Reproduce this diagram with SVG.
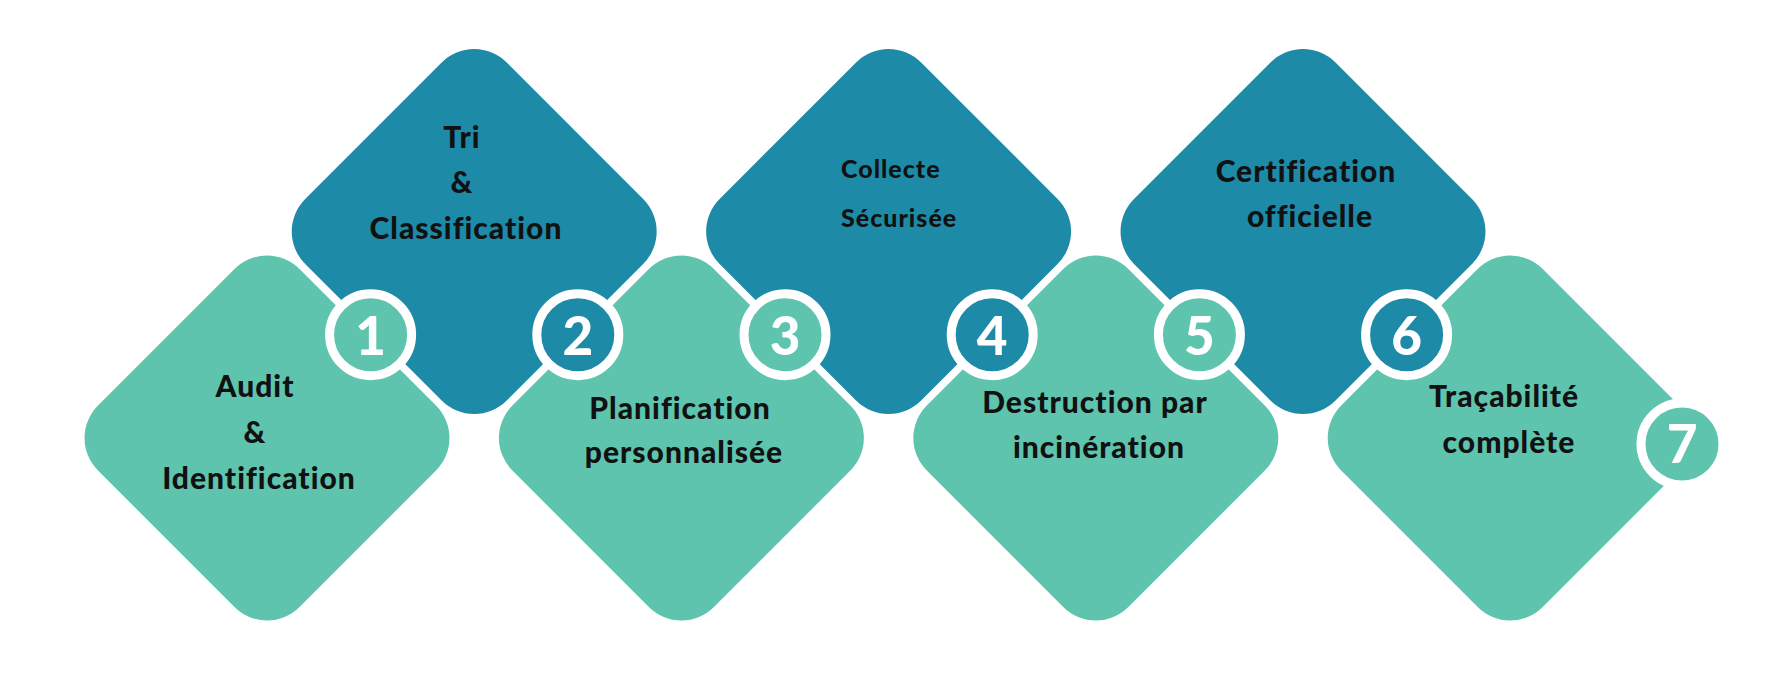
<svg xmlns="http://www.w3.org/2000/svg" xmlns:xlink="http://www.w3.org/1999/xlink" width="1772" height="683" viewBox="0 0 1772 683">
<style>
.teal{fill:#5EC4AE}
.blue{fill:#1D8AA8}
.lbl{font-family:Lato,"Liberation Sans",sans-serif;font-weight:900;font-size:30px;fill:#111;text-anchor:middle;letter-spacing:1px}
.lbl-s{font-family:Lato,"Liberation Sans",sans-serif;font-weight:900;font-size:25px;fill:#111;letter-spacing:1px}
.ring{stroke:#fff;stroke-width:9}
.num{font-family:Lato,"Liberation Sans",sans-serif;font-weight:900;font-size:53px;fill:#fff;text-anchor:middle}
</style>
<defs>
<rect id="dia" x="-142.5" y="-142.5" width="285" height="285" rx="46"/>
</defs>
<rect width="1772" height="683" fill="#fff"/>
<g id="connectors"/>
<g id="step7">
<use xlink:href="#dia" href="#dia" class="teal" transform="translate(1510.2,438) rotate(45)"/>
<text class="lbl" x="1504" y="407">Traçabilité</text>
<text class="lbl" x="1509" y="453">complète</text>
<circle class="teal ring" cx="1682" cy="444" r="41"/>
<text class="num" x="1682" y="463">7</text>
</g>
<g id="step6">
<use xlink:href="#dia" href="#dia" class="blue" transform="translate(1303,231.5) rotate(45)"/>
<text class="lbl" x="1306" y="182">Certification</text>
<text class="lbl" x="1310" y="227">officielle</text>
<circle class="blue ring" cx="1406.6" cy="334.7" r="41"/>
<text class="num" x="1406.6" y="355">6</text>
</g>
<g id="step5">
<use xlink:href="#dia" href="#dia" class="teal" transform="translate(1095.8,438) rotate(45)"/>
<text class="lbl" x="1095" y="413">Destruction par</text>
<text class="lbl" x="1099" y="458">incinération</text>
<circle class="teal ring" cx="1199.4" cy="334.7" r="41"/>
<text class="num" x="1199.4" y="355">5</text>
</g>
<g id="step4">
<use xlink:href="#dia" href="#dia" class="blue" transform="translate(888.6,231.5) rotate(45)"/>
<text class="lbl-s" x="841" y="178">Collecte</text>
<text class="lbl-s" x="841" y="227">Sécurisée</text>
<circle class="blue ring" cx="992.2" cy="334.7" r="41"/>
<text class="num" x="992.2" y="355">4</text>
</g>
<g id="step3">
<use xlink:href="#dia" href="#dia" class="teal" transform="translate(681.4,438) rotate(45)"/>
<text class="lbl" x="680" y="419">Planification</text>
<text class="lbl" x="684" y="463">personnalisée</text>
<circle class="teal ring" cx="785" cy="334.7" r="41"/>
<text class="num" x="785" y="355">3</text>
</g>
<g id="step2">
<use xlink:href="#dia" href="#dia" class="blue" transform="translate(474.2,231.5) rotate(45)"/>
<text class="lbl" x="462" y="148">Tri</text>
<text class="lbl" x="462" y="193">&amp;</text>
<text class="lbl" x="466" y="239">Classification</text>
<circle class="blue ring" cx="577.8" cy="334.7" r="41"/>
<text class="num" x="577.8" y="355">2</text>
</g>
<g id="step1">
<use xlink:href="#dia" href="#dia" class="teal" transform="translate(267,438) rotate(45)"/>
<text class="lbl" x="255" y="397">Audit</text>
<text class="lbl" x="255" y="443">&amp;</text>
<text class="lbl" x="259" y="489">Identification</text>
<circle class="teal ring" cx="370.6" cy="334.7" r="41"/>
<text class="num" x="370.6" y="355">1</text>
</g>
</svg>
